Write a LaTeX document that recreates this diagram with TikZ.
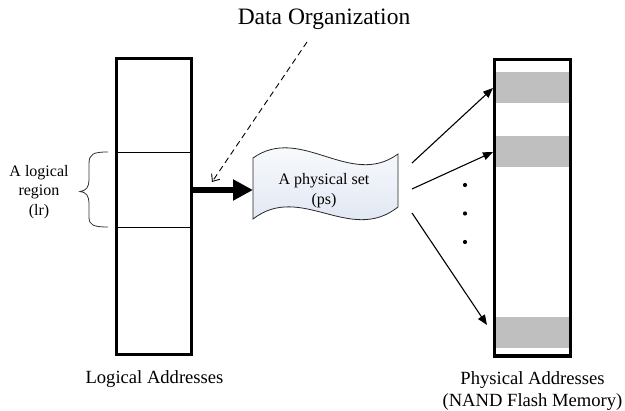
\documentclass[tikz,border=0pt]{standalone}
\usepackage{fontspec}
\setmainfont{Liberation Serif}
\usetikzlibrary{arrows.meta}
\definecolor{bandgray}{RGB}{191,191,191}
\definecolor{wavefill}{RGB}{218,226,240}
\begin{document}
\begin{tikzpicture}[x=1pt,y=-1pt,
  col/.style={draw=black,line width=3.2pt,inner sep=0pt,outer sep=0pt},
  band/.style={fill=bandgray,draw=none},
  biglbl/.style={font=\fontsize{18.6}{22}\selectfont,align=center,inner sep=0pt},
  smlbl/.style={font=\fontsize{16}{19.5}\selectfont,align=center,inner sep=0pt},
  titlelbl/.style={font=\fontsize{23.5}{27}\selectfont,inner sep=0pt},
  maparrow/.style={-{Triangle[length=10pt,width=8pt]},line width=1.1pt},
  bigarrow/.style={-{Triangle[length=20pt,width=20pt]},line width=6.5pt},
  orgarrow/.style={-{Straight Barb[length=6pt,width=10pt]},line width=0.9pt,dash pattern=on 6pt off 4pt},
  wave/.style={draw=black!85,line width=0.8pt,top color=white,bottom color=wavefill},
  bracestyle/.style={draw=black!80,line width=0.8pt},
]
\useasboundingbox (0,0) rectangle (625,411);

% left column
\node[col,minimum width=75pt,minimum height=296pt] (lc) at (154.2,206.5) {};
\coordinate (d1l) at (118,152); \coordinate (d1r) at (190.5,152);
\coordinate (d2l) at (118,227); \coordinate (d2r) at (190.5,227);
\draw[line width=0.8pt] (d1l) -- (d1r);
\draw[line width=0.8pt] (d2l) -- (d2r);

% brace
\draw[bracestyle] (108,152) .. controls (93,152) and (89,154) .. (89,164)
  -- (89,180) .. controls (89,187) and (86,191) .. (80,191.5)
  .. controls (86,192) and (89,196) .. (89,203)
  -- (89,217) .. controls (89,225) and (93,227) .. (108,227);
\node[smlbl] (lr) at (39,192) {A logical\\region\\(lr)};

% physical set wave
\path[wave] (253,158) .. controls (301,124) and (350,189) .. (398,154)
  -- (398,207) .. controls (350,245) and (301,182) .. (253,219) -- cycle;
\node[smlbl] (ps) at (324,190.5) {A physical set\\(ps)};
\coordinate (psW) at (253,190);
\coordinate (s1) at (412,163);
\coordinate (s2) at (412,189);
\coordinate (s3) at (412,213);

% right column
\fill[band] (494.3,71.7) rectangle (570.7,102.7);
\fill[band] (494.3,136) rectangle (570.7,166.7);
\fill[band] (494.3,317) rectangle (570.7,348);
\node[col,line width=3.5pt,minimum width=76.4pt,minimum height=296.7pt] (rc) at (532.5,207.7) {};
\coordinate (t1) at (493,88);
\coordinate (t2) at (493,152);
\coordinate (t3) at (487,325);

% arrows
\draw[bigarrow] (lc.east |- psW) -- (psW);
\draw[maparrow] (s1) -- (t1);
\draw[maparrow] (s2) -- (t2);
\draw[maparrow] (s3) -- (t3);
\fill (465,185) circle (2.1pt);
\fill (465,213.5) circle (2.1pt);
\fill (465,242) circle (2.1pt);

% data organization
\node[titlelbl,anchor=base] (dorg) at (324,25) {Data Organization};
\coordinate (dstart) at (307,42);
\coordinate (dend) at (212,182);
\draw[orgarrow] (dstart) -- (dend);

% bottom labels
\node[biglbl,anchor=base] (la) at (154.5,384) {Logical Addresses};
\node[biglbl] (pa) at (532.5,391) {Physical Addresses\\(NAND Flash Memory)};
\end{tikzpicture}
\end{document}
